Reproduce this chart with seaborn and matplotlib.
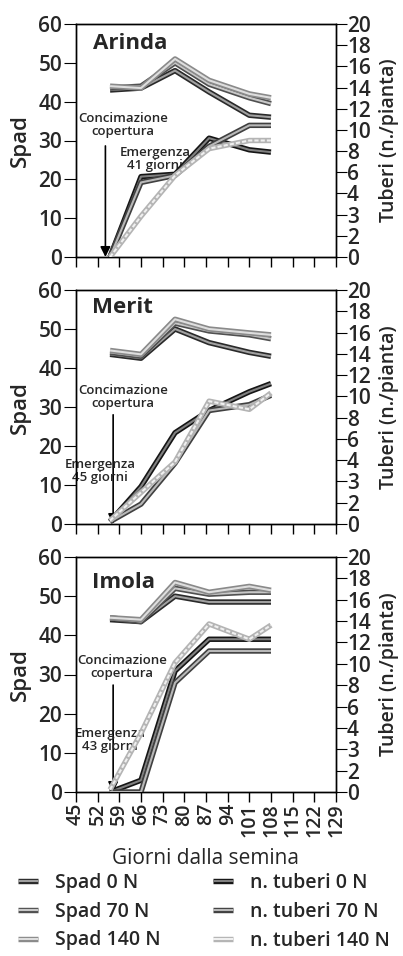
import matplotlib
matplotlib.use("Agg")
import matplotlib.pyplot as plt
from matplotlib.lines import Line2D
import seaborn as sns
import numpy as np
import pandas as pd

# ---------------- data ----------------
cultivars = ["Arinda", "Merit", "Imola"]
emergence = ["41", "45", "43"]
days = [56, 66, 77, 88, 101, 108]

arinda_spad_0 = [43.0, 43.5, 48.0, 42.5, 36.5, 36.0]
arinda_spad_70 = [43.5, 44.0, 50.0, 44.5, 41.0, 39.5]
arinda_spad_140 = [44.0, 43.5, 51.0, 45.5, 42.0, 41.0]
arinda_tub_0 = [0.0, 6.9, 7.1, 10.2, 9.2, 9.0]
arinda_tub_70 = [0.0, 6.4, 7.0, 9.5, 11.3, 11.3]
arinda_tub_140 = [0.0, 3.5, 7.0, 9.3, 10.0, 10.0]

merit_spad_0 = [43.5, 42.5, 50.0, 46.5, 44.0, 43.0]
merit_spad_70 = [44.0, 43.0, 51.5, 49.5, 48.5, 47.5]
merit_spad_140 = [44.5, 43.5, 52.5, 50.0, 49.0, 48.5]
merit_tub_0 = [0.2, 3.2, 7.8, 9.7, 11.3, 12.0]
merit_tub_70 = [0.2, 1.7, 5.2, 9.7, 10.2, 11.0]
merit_tub_140 = [0.3, 2.7, 5.3, 10.5, 9.8, 11.2]

imola_spad_0 = [44.0, 43.5, 50.0, 48.5, 48.5, 48.5]
imola_spad_70 = [44.5, 43.5, 52.0, 50.5, 51.0, 51.0]
imola_spad_140 = [44.5, 44.0, 53.5, 51.0, 52.5, 51.5]
imola_tub_0 = [0.0, 1.0, 10.3, 13.0, 13.0, 13.0]
imola_tub_70 = [0.0, 0.0, 9.3, 12.0, 12.0, 12.0]
imola_tub_140 = [0.2, 5.0, 11.0, 14.3, 13.0, 14.2]

spad_data = [
    [arinda_spad_0, arinda_spad_70, arinda_spad_140],
    [merit_spad_0, merit_spad_70, merit_spad_140],
    [imola_spad_0, imola_spad_70, imola_spad_140],
]
tub_data = [
    [arinda_tub_0, arinda_tub_70, arinda_tub_140],
    [merit_tub_0, merit_tub_70, merit_tub_140],
    [imola_tub_0, imola_tub_70, imola_tub_140],
]
spad_labels = ["Spad 0 N", "Spad 70 N", "Spad 140 N"]
tub_labels = ["n. tuberi 0 N", "n. tuberi 70 N", "n. tuberi 140 N"]

x_ticks = [45, 52, 59, 66, 73, 80, 87, 94, 101, 108, 115, 122, 129]
left_ticks = [0, 10, 20, 30, 40, 50, 60]
right_tick_labels = ["0", "2", "3", "4", "6", "8", "10", "12", "14", "16", "18", "20"]

# ---------------- style ----------------
sns.set_theme(style="white")
FONT = ["Open Sans", "DejaVu Sans"]
plt.rcParams["font.family"] = FONT
plt.rcParams["axes.linewidth"] = 1.0
plt.rcParams["lines.solid_capstyle"] = "butt"

spad_styles = [("#2a2a2a", "#a0a0a0"), ("#505050", "#c8c8c8"), ("#8a8a8a", "#dedede")]
tub_styles = [("#151515", "#808080"), ("#404040", "#b8b8b8"), ("#b4b4b4", "#f0f0f0")]
OUT_LW, IN_LW = 3.9, 1.5

fig = plt.figure(figsize=(4.03, 9.56), dpi=100)
W, H = 403, 956
panels = [(24, 257), (290, 524), (557, 792)]
ax_left, ax_right = 76, 336

title_pos = [(50.5, 55.1), (50.2, 55.4), (50.2, 53.4)]
conc_pos = [(60.2, 34.0), (60.2, 32.5), (59.9, 32.0)]
arrow_x = [54.5, 57.0, 57.0]
arrow_top = [28.6, 28.0, 27.3]
emerg_pos = [(70.5, 25.2), (52.8, 13.7), (56.0, 13.3)]

for i, (top, bot) in enumerate(panels):
    ax = fig.add_axes([ax_left / W, 1 - bot / H, (ax_right - ax_left) / W, (bot - top) / H])
    ax2 = ax.twinx()
    for k in range(3):
        oc, ic = spad_styles[k]
        sns.lineplot(x=days, y=spad_data[i][k], ax=ax, color=oc, lw=OUT_LW, legend=False, zorder=3)
        sns.lineplot(x=days, y=spad_data[i][k], ax=ax, color=ic, lw=IN_LW, legend=False, zorder=3)
    for k in range(3):
        oc, ic = tub_styles[k]
        sns.lineplot(x=days, y=tub_data[i][k], ax=ax2, color=oc, lw=OUT_LW, legend=False, zorder=3)
        sns.lineplot(x=days, y=tub_data[i][k], ax=ax2, color=ic, lw=IN_LW, legend=False, zorder=3,
                     linestyle=(0, (2, 1)) if k == 2 else "-")

    ax.set_xlim(45, 129)
    ax.set_ylim(0, 60)
    ax2.set_ylim(0, 20)
    ax.set_xticks(x_ticks)
    ax.set_yticks(left_ticks)
    ax2.set_yticks(np.linspace(0, 20, len(right_tick_labels)))
    ax2.set_yticklabels(right_tick_labels)
    ax.grid(False)
    ax2.grid(False)
    for a in (ax, ax2):
        for s in a.spines.values():
            s.set_color("black")
            s.set_linewidth(1.0)
    ax.tick_params(axis="y", direction="out", length=9, width=0.8, color="black",
                   labelsize=15, pad=1)
    ax2.tick_params(axis="y", direction="out", length=8, width=0.8, color="black",
                    labelsize=15, pad=0)
    ax.tick_params(axis="x", direction="out", length=7, width=1.0, color="black",
                   bottom=True, labelsize=14, pad=1)
    for lab in ax.get_yticklabels() + ax2.get_yticklabels():
        lab.set_fontweight("semibold")
    if i < 2:
        ax.set_xticklabels([])
    else:
        ax.set_xticklabels([str(t) for t in x_ticks], rotation=90, fontweight="semibold")
        ax.set_xlabel("Giorni dalla semina", fontsize=15, labelpad=8)
    ax.set_ylabel("Spad", fontsize=16, fontweight="semibold", labelpad=5)
    ax2.set_ylabel("Tuberi (n./pianta)", fontsize=14, fontweight="semibold", labelpad=6)

    ax.text(title_pos[i][0], title_pos[i][1], cultivars[i], fontsize=16,
            fontweight="bold", ha="left", va="center", zorder=5)
    ax.text(conc_pos[i][0], conc_pos[i][1], "Concimazione\ncopertura", fontsize=9.5,
            fontweight="semibold", ha="center", va="center", linespacing=1.0, zorder=5)
    ax.annotate("", xy=(arrow_x[i], 0), xytext=(arrow_x[i], arrow_top[i]),
                arrowprops=dict(arrowstyle="-|>", color="black", lw=1.2, mutation_scale=15,
                                shrinkA=0, shrinkB=0), zorder=6)
    ax.text(emerg_pos[i][0], emerg_pos[i][1], "Emergenza\n" + emergence[i] + " giorni",
            fontsize=9.5, fontweight="semibold", ha="center", va="center",
            linespacing=1.0, zorder=6)

# ---------------- legend ----------------
handles = []
for k in range(3):
    oc, ic = spad_styles[k]
    handles.append((Line2D([], [], color=oc, lw=OUT_LW), Line2D([], [], color=ic, lw=IN_LW)))
for k in range(3):
    oc, ic = tub_styles[k]
    handles.append((Line2D([], [], color=oc, lw=OUT_LW), Line2D([], [], color=ic, lw=IN_LW)))
fig.legend(handles, spad_labels + tub_labels, ncol=2, loc="upper left",
           bbox_to_anchor=(0.045, 1 - 873 / H), frameon=False,
           prop={"size": 14, "weight": "semibold"},
           handlelength=1.0, handletextpad=0.9, columnspacing=2.7, labelspacing=0.45,
           borderaxespad=0, borderpad=0)

fig.savefig("out.png", dpi=100)
